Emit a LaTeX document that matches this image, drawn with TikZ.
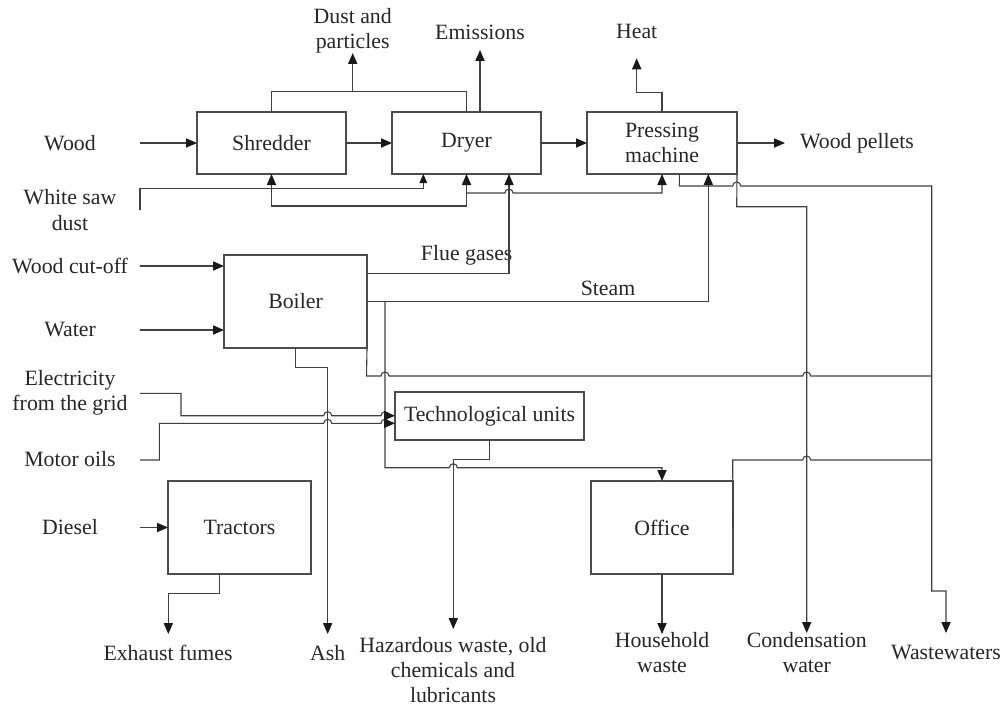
\documentclass[tikz,border=0pt]{standalone}
\usepackage{fontspec}
\setmainfont{Liberation Serif}
\usetikzlibrary{arrows.meta}
\newcommand\hop[2]{-- (#1-4,#2) arc[start angle=180,end angle=0,radius=2pt]}
\begin{document}
\begin{tikzpicture}[x=0.5pt,y=-0.5pt,
  font=\fontsize{10.9}{12.7}\selectfont,
  ln/.style={draw=black!75, line width=0.55pt},
  arr/.style={ln,-{Triangle[length=5.5pt,width=4.6pt,color=black!90]}},
  sarr/.style={ln,-{Triangle[length=4.5pt,width=3.8pt,color=black!90]}},
  box/.style={draw=black!70, line width=0.6pt, inner sep=0pt, outer sep=0pt, align=center, text=black!85},
  lbl/.style={inner sep=0pt, align=center, text=black!85}]
\useasboundingbox (0,0) rectangle (1004,706);
% boxes
\node[box, minimum width=74.5pt, minimum height=31pt] (shr) at (271.5,143) {Shredder};
\node[box, minimum width=74.5pt, minimum height=31pt] (dry) at (466.5,143) {Dryer};
\node[box, minimum width=75pt, minimum height=31pt] (prs) at (662,143) {Pressing\\machine};
\node[box, minimum width=71.5pt, minimum height=46.5pt] (boi) at (295.5,301.5) {Boiler};
\node[box, minimum width=94.5pt, minimum height=24pt] (tec) at (489.5,416) {Technological units};
\node[box, minimum width=71.5pt, minimum height=46.5pt] (tra) at (239.5,527.5) {Tractors};
\node[box, minimum width=71pt, minimum height=46.5pt] (off) at (662,527.5) {Office};
% labels
\node[lbl] (ldust) at (352.7,31) {Dust and\\particles};
\node[lbl] (lemis) at (480,32.3) {Emissions};
\node[lbl] (lheat) at (636.7,31.7) {Heat};
\node[lbl] (lwood) at (70,143) {Wood};
\node[lbl] (lsaw) at (70,210) {White saw\\dust};
\node[lbl] (lpell) at (857,143) {Wood pellets};
\node[lbl] (lcut) at (70,266) {Wood cut-off};
\node[lbl] (lwat) at (70,330) {Water};
\node[lbl] (lele) at (70,393) {Electricity\\from the grid};
\node[lbl] (lmot) at (70,459.3) {Motor oils};
\node[lbl] (ldie) at (70,527) {Diesel};
\node[lbl] (lflue) at (466.7,255) {Flue gases};
\node[lbl] (lsteam) at (608,288) {Steam};
\node[lbl] (lexh) at (168,653) {Exhaust fumes};
\node[lbl] (lash) at (327.7,653) {Ash};
\node[lbl] (lhaz) at (453,670) {Hazardous waste, old\\chemicals and\\lubricants};
\node[lbl] (lhou) at (662,652.5) {Household\\waste};
\node[lbl] (lcon) at (806.7,652.5) {Condensation\\water};
\node[lbl] (lwas) at (946,653) {Wastewaters};
% coordinates for free ends
\coordinate (woodin) at (140,143);
\coordinate (pellout) at (785,143);
\coordinate (dusttip) at (352.7,53);
\coordinate (emistip) at (480,50);
\coordinate (heattip) at (636.7,58.3);
\coordinate (cutin) at (140,266);
\coordinate (watin) at (140,330);
\coordinate (diein) at (140,527.5);
% main line
\draw[arr] (woodin) -- (shr.west);
\draw[arr] (shr.east) -- (dry.west);
\draw[arr] (dry.east) -- (prs.west);
\draw[arr] (prs.east) -- (pellout);
% top outputs
\draw[ln] (shr.north) -- (271.5,91.7) -- (466.5,91.7) -- (dry.north);
\draw[arr] (352.7,91.7) -- (dusttip);
\draw[arr] (480,112) -- (emistip);
\draw[arr] (prs.north) -- (662,92.3) -- (636.7,92.3) -- (heattip);
% white saw dust and recycling
\draw[sarr] (140,210) -- (140,188.3) -- (423.3,188.3) -- (423.3,174);
\draw[arr] (466.5,206) -- (dry.south);
\draw[arr] (466.5,206) -- (271.5,206) -- (shr.south);
\draw[arr] (466.5,193) \hop{509}{193} -- (662,193) -- (prs.south);
% boiler
\draw[arr] (cutin) -- (224,266);
\draw[arr] (watin) -- (224,330);
\draw[arr] (366.5,273.3) -- (509,273.3) -- (509,174);
\draw[arr] (366.5,301.7) -- (708.3,301.7) -- (708.3,174);
\draw[arr] (385,301.7) -- (385,467.7) \hop{453.3}{467.7} -- (662,467.7) -- (off.north);
\draw[ln] (boi.south east) -- (366.5,376) \hop{385}{376} \hop{806.7}{376} -- (931.7,376);
\draw[arr] (boi.south) -- (295.5,367.7) -- (327.7,367.7) -- (327.7,634);
% technological units
\draw[arr] (140,393.3) -- (181,393.3) -- (181,415.7) \hop{327.7}{415.7} \hop{385}{415.7} -- (395,415.7);
\draw[arr] (140,460) -- (159.3,460) -- (159.3,423.3) \hop{327.7}{423.3} \hop{385}{423.3} -- (395,423.3);
\draw[arr] (tec.south) -- (489.5,459.3) -- (453.3,459.3) -- (453.3,629);
% tractors
\draw[arr] (diein) -- (tra.west);
\draw[arr] (219.3,574) -- (219.3,593.3) -- (168.3,593.3) -- (168.3,634);
% office
\draw[arr] (off.south) -- (662,634);
\draw[ln] (off.east) -- (732.7,460) \hop{806.7}{460} -- (931.7,460);
% pressing machine outputs
\draw[arr] (679.3,174) -- (679.3,186) \hop{736.7}{186} -- (931.7,186) -- (931.7,591) -- (946,591) -- (946,633);
\draw[arr] (prs.south east) -- (736.7,206.7) -- (806.7,206.7) -- (806.7,633);
\end{tikzpicture}
\end{document}
